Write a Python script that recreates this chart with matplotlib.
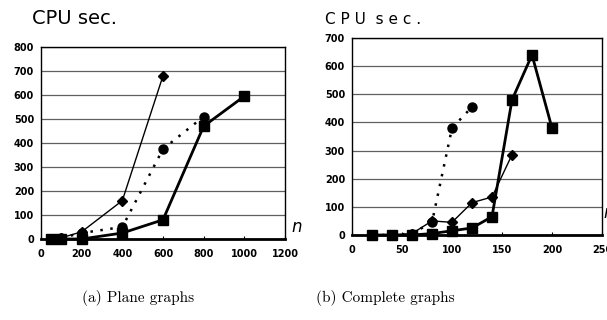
import matplotlib.pyplot as plt
from matplotlib.ticker import MultipleLocator

# (a) Plane graphs
plane_n_sq = [50, 100, 200, 400, 600, 800, 1000]
plane_sq = [0, 0, 0, 25, 80, 470, 595]
plane_n_ci = [50, 100, 200, 400, 600, 800]
plane_ci = [0, 5, 25, 50, 375, 510]
plane_n_di = [50, 100, 200, 400, 600]
plane_di = [0, 5, 30, 160, 680]

# (b) Complete graphs
comp_n_sq = [20, 40, 60, 80, 100, 120, 140, 160, 180, 200]
comp_sq = [0, 0, 0, 5, 15, 25, 65, 480, 640, 380]
comp_n_ci = [20, 40, 60, 80, 100, 120]
comp_ci = [0, 0, 5, 45, 380, 455]
comp_n_di = [20, 40, 60, 80, 100, 120, 140, 160]
comp_di = [0, 0, 5, 50, 45, 115, 135, 285]


def style_axes(ax, xmax, xstep, ymax):
    ax.set_xlim(0, xmax)
    ax.set_ylim(0, ymax)
    ax.xaxis.set_major_locator(MultipleLocator(xstep))
    ax.yaxis.set_major_locator(MultipleLocator(100))
    ax.yaxis.grid(True, color="#606060", linewidth=0.9)
    ax.set_axisbelow(True)
    for s in ax.spines.values():
        s.set_linewidth(1.0)
    ax.spines["bottom"].set_linewidth(2.0)
    ax.tick_params(axis="x", direction="in", length=2, pad=7)
    ax.tick_params(axis="y", length=0, pad=5)
    for lab in ax.get_xticklabels() + ax.get_yticklabels():
        lab.set_fontsize(7)
        lab.set_fontweight("bold")


def draw(ax, nsq, sq, nci, ci, ndi, di):
    ax.plot(ndi, di, color="black", lw=1.0, marker="D", ms=5, clip_on=False)
    ax.plot(nci, ci, color="black", lw=1.8, ls=(0, (1, 3)), marker="o", ms=6.5,
            clip_on=False)
    ax.plot(nsq, sq, color="black", lw=2.0, marker="s", ms=7, clip_on=False)


fig = plt.figure(figsize=(6.07, 3.2), dpi=100)

ax1 = fig.add_axes([41 / 607, 81 / 320, 244 / 607, 192 / 320])
draw(ax1, plane_n_sq, plane_sq, plane_n_ci, plane_ci, plane_n_di, plane_di)
style_axes(ax1, 1200, 200, 800)

ax2 = fig.add_axes([352 / 607, 85 / 320, 250 / 607, 197 / 320])
draw(ax2, comp_n_sq, comp_sq, comp_n_ci, comp_ci, comp_n_di, comp_di)
style_axes(ax2, 250, 50, 700)

fig.text(32 / 607, 1 - 19 / 320, "CPU sec.", fontsize=14, va="center", ha="left")
fig.text(325 / 607, 1 - 19 / 320, "C P U  s e c .", fontsize=11, va="center", ha="left")
fig.text(297 / 607, 1 - 227 / 320, "n", fontsize=12, style="italic", va="center", ha="center")
fig.text(603 / 607, 1 - 213 / 320, "n", fontsize=12, style="italic", va="center", ha="left")

fig.text(138 / 607, 1 - 298 / 320, "(a) Plane graphs", fontsize=11, family="cmr10",
         ha="center", va="center")
fig.text(385 / 607, 1 - 298 / 320, "(b) Complete graphs", fontsize=11, family="cmr10",
         ha="center", va="center")

fig.savefig("out.png", dpi=100)
